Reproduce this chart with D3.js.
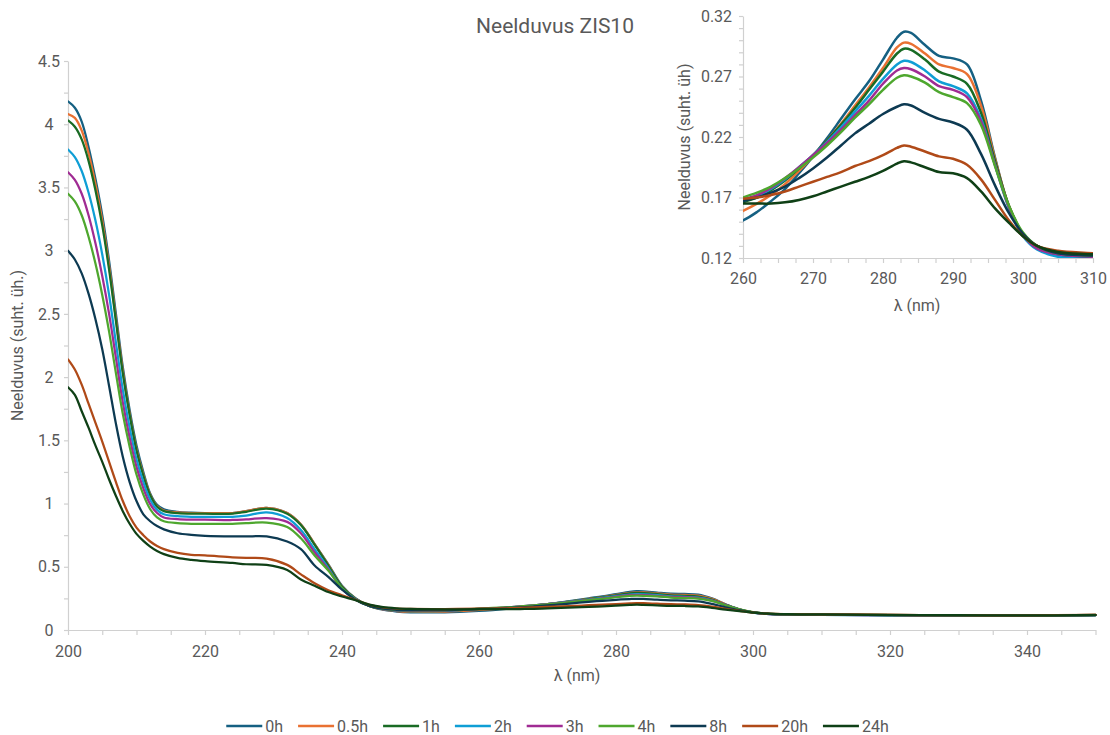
<!DOCTYPE html>
<html>
<head>
<meta charset="utf-8">
<script src="https://cdn.jsdelivr.net/npm/d3@7"></script>
<style>
  html, body { margin: 0; padding: 0; background: #ffffff; }
  svg { display: block; font-family: Roboto, "Liberation Sans", sans-serif; }
</style>
</head>
<body>
<svg id="chart" width="1110" height="735"></svg>
<script>
// Wavelength grid (nm)
const wavelengths = [
  200,201,202,203,204,205,206,207,208,209,210,211,212,213,214,
  216,218,220,224,226,229,232,234,236,238,
  240,242,244,246,248,250,255,
  260,262,264,266,268,270,272,274,276,278,
  280,282,283,284,286,288,290,292,294,296,
  298,300,302,305,310,320,330,340,350
];

// Absorbance spectra, one array per irradiation time
const abs0h = [
  4.18,4.13,4.02,3.82,3.57,3.28,2.92,2.50,2.08,1.74,1.46,1.25,1.08,0.99,0.955,
  0.935,0.928,0.925,0.925,0.94,0.965,0.925,0.835,0.68,0.52,
  0.35,0.25,0.19,0.16,0.146,0.14,0.14,
  0.151,0.158,0.167,0.177,0.19,0.204,0.219,0.235,0.251,0.266,
  0.284,0.302,0.307,0.306,0.296,0.287,0.285,0.28,0.25,0.203,
  0.162,0.139,0.128,0.122,0.120,0.117,0.115,0.114,0.118
];
const abs05h = [
  4.08,4.05,3.95,3.77,3.53,3.24,2.88,2.46,2.05,1.71,1.43,1.23,1.07,0.98,0.945,
  0.93,0.925,0.925,0.925,0.94,0.965,0.925,0.835,0.68,0.515,
  0.345,0.248,0.19,0.162,0.15,0.145,0.146,
  0.159,0.165,0.172,0.181,0.192,0.204,0.217,0.231,0.246,0.261,
  0.277,0.294,0.298,0.297,0.289,0.28,0.277,0.272,0.246,0.202,
  0.163,0.14,0.13,0.125,0.123,0.119,0.117,0.115,0.119
];
const abs1h = [
  4.03,3.98,3.88,3.71,3.48,3.20,2.85,2.44,2.03,1.70,1.42,1.22,1.065,0.975,0.94,
  0.925,0.92,0.92,0.92,0.935,0.96,0.92,0.83,0.675,0.51,
  0.342,0.246,0.19,0.164,0.154,0.15,0.152,
  0.166,0.17,0.176,0.184,0.194,0.205,0.217,0.23,0.244,0.259,
  0.274,0.289,0.293,0.292,0.284,0.274,0.27,0.264,0.24,0.2,
  0.163,0.14,0.13,0.125,0.123,0.118,0.116,0.114,0.118
];
const abs2h = [
  3.80,3.74,3.63,3.46,3.24,2.97,2.65,2.27,1.90,1.60,1.35,1.17,1.03,0.95,0.915,
  0.90,0.895,0.895,0.895,0.905,0.93,0.885,0.79,0.64,0.49,
  0.33,0.243,0.19,0.165,0.155,0.15,0.151,
  0.167,0.171,0.177,0.185,0.195,0.205,0.216,0.228,0.241,0.254,
  0.268,0.28,0.283,0.282,0.275,0.266,0.262,0.256,0.235,0.197,
  0.161,0.138,0.127,0.121,0.119,0.116,0.115,0.113,0.117
];
const abs3h = [
  3.62,3.56,3.45,3.28,3.06,2.80,2.50,2.15,1.80,1.52,1.29,1.12,0.995,0.925,0.89,
  0.877,0.873,0.873,0.87,0.875,0.885,0.855,0.765,0.615,0.48,
  0.325,0.242,0.19,0.165,0.156,0.152,0.153,
  0.168,0.172,0.178,0.186,0.195,0.205,0.215,0.226,0.238,0.25,
  0.264,0.275,0.277,0.276,0.27,0.262,0.259,0.253,0.233,0.197,
  0.162,0.139,0.128,0.123,0.121,0.117,0.115,0.114,0.118
];
const abs4h = [
  3.45,3.39,3.28,3.11,2.90,2.65,2.36,2.03,1.71,1.45,1.23,1.07,0.955,0.89,0.86,
  0.845,0.84,0.84,0.84,0.845,0.85,0.815,0.725,0.59,0.47,
  0.33,0.24,0.19,0.166,0.158,0.155,0.156,
  0.17,0.174,0.179,0.186,0.194,0.203,0.213,0.224,0.236,0.247,
  0.259,0.269,0.271,0.27,0.265,0.257,0.253,0.248,0.23,0.196,
  0.163,0.141,0.13,0.124,0.122,0.118,0.116,0.114,0.118
];
const abs8h = [
  3.00,2.93,2.82,2.66,2.46,2.22,1.93,1.63,1.37,1.17,1.02,0.915,0.86,0.822,0.796,
  0.765,0.752,0.745,0.74,0.74,0.74,0.70,0.64,0.51,0.42,
  0.32,0.238,0.19,0.168,0.16,0.157,0.158,
  0.167,0.17,0.174,0.179,0.186,0.194,0.203,0.213,0.223,0.231,
  0.239,0.245,0.247,0.246,0.24,0.235,0.232,0.226,0.206,0.18,
  0.157,0.14,0.13,0.124,0.122,0.118,0.116,0.114,0.118
];
const abs20h = [
  2.14,2.06,1.94,1.79,1.64,1.49,1.33,1.17,1.02,0.90,0.81,0.75,0.70,0.665,0.64,
  0.61,0.595,0.59,0.575,0.57,0.565,0.515,0.44,0.37,0.315,
  0.275,0.237,0.20,0.178,0.17,0.167,0.166,
  0.169,0.17,0.172,0.175,0.179,0.183,0.187,0.191,0.196,0.2,
  0.205,0.211,0.213,0.212,0.208,0.204,0.202,0.197,0.185,0.168,
  0.151,0.138,0.13,0.126,0.124,0.12,0.117,0.116,0.12
];
const abs24h = [
  1.92,1.86,1.73,1.60,1.46,1.33,1.19,1.06,0.94,0.84,0.76,0.705,0.66,0.625,0.60,
  0.57,0.555,0.545,0.53,0.52,0.515,0.475,0.40,0.35,0.30,
  0.265,0.235,0.20,0.18,0.171,0.167,0.164,
  0.165,0.165,0.165,0.166,0.168,0.171,0.175,0.179,0.183,0.187,
  0.192,0.198,0.2,0.199,0.195,0.191,0.19,0.186,0.175,0.161,
  0.149,0.138,0.13,0.125,0.123,0.119,0.117,0.115,0.119
];

const seriesLabels = ["0h","0.5h","1h","2h","3h","4h","8h","20h","24h"];
const seriesValues = [abs0h, abs05h, abs1h, abs2h, abs3h, abs4h, abs8h, abs20h, abs24h];
const seriesColors = ["#156082","#E97132","#196B24","#0F9ED5","#A02B93","#4EA72E","#0D3A52","#B04A18","#0F4016"];

// Axis ticks
const mainXTicks = d3.range(200, 351, 5);
const mainXLabels = [200,220,240,260,280,300,320,340];
const mainYTicks = d3.range(0, 4.51, 0.25);
const mainYLabels = [0,0.5,1,1.5,2,2.5,3,3.5,4,4.5];
const insetXTicks = d3.range(0, 21).map(k => 260 + k * 2.5);
const insetXLabels = [260,270,280,290,300,310];
const insetYTicks = d3.range(12, 33).map(k => k / 100);
const insetYLabels = [0.12,0.17,0.22,0.27,0.32];

const textColor = "#595959";
const axisColor = "#D0D0D0";

const svg = d3.select("#chart");

const series = seriesLabels.map((label, i) => ({
  label,
  color: seriesColors[i],
  points: wavelengths.map((w, j) => ({ w, a: seriesValues[i][j] }))
}));

function styleAxis(g) {
  g.select(".domain").attr("stroke", axisColor).attr("stroke-width", 1.2);
  g.selectAll(".tick line").attr("stroke", axisColor).attr("stroke-width", 1.2);
  g.selectAll(".tick text").attr("fill", textColor).style("font-size", "16px")
    .style("font-family", "Roboto, sans-serif");
}

const has = (arr, v) => arr.some(a => Math.abs(a - v) < 1e-9);
const smooth = d3.curveCatmullRom.alpha(0.5);

// ---------- main spectrum panel ----------
const x = d3.scaleLinear().domain([200, 350]).range([68, 1095.5]);
const y = d3.scaleLinear().domain([0, 4.5]).range([630, 61]);

svg.append("defs").append("clipPath").attr("id", "clipMain")
  .append("rect").attr("x", 68).attr("y", 40).attr("width", 1095.5 - 68 + 2).attr("height", 592);

svg.append("g").attr("transform", `translate(0,${y(0)})`)
  .call(d3.axisBottom(x).tickValues(mainXTicks).tickSize(5).tickSizeOuter(0).tickPadding(5)
    .tickFormat(d => has(mainXLabels, d) ? d : ""))
  .call(styleAxis)
  .call(g => g.selectAll(".tick text").attr("dy", "1.05em"));

svg.append("g").attr("transform", `translate(${x(200)},0)`)
  .call(d3.axisLeft(y).tickValues(mainYTicks).tickSize(4).tickSizeOuter(0)
    .tickFormat(d => has(mainYLabels, d) ? String(+d.toFixed(2)) : ""))
  .call(styleAxis)
  .call(g => g.selectAll(".tick text").attr("text-anchor", "middle").attr("x", 49 - 68));

const lineMain = d3.line().x(d => x(d.w)).y(d => y(d.a)).curve(smooth);

svg.append("g").attr("clip-path", "url(#clipMain)")
  .selectAll("path").data(series).join("path")
  .attr("d", s => lineMain(s.points))
  .attr("fill", "none")
  .attr("stroke", s => s.color)
  .attr("stroke-width", 2.25)
  .attr("stroke-linejoin", "round")
  .attr("stroke-linecap", "round");

svg.append("text").attr("x", 577).attr("y", 681).attr("text-anchor", "middle")
  .attr("fill", textColor).style("font-size", "16px").text("λ (nm)");

svg.append("text").attr("transform", "translate(23,345.5) rotate(-90)").attr("text-anchor", "middle")
  .attr("fill", textColor).style("font-size", "16px").text("Neelduvus (suht. üh.)");

svg.append("text").attr("x", 555).attr("y", 33).attr("text-anchor", "middle")
  .attr("fill", textColor).style("font-size", "21px").text("Neelduvus ZIS10");

// ---------- inset: 260–310 nm ----------
const xi = d3.scaleLinear().domain([260, 310]).range([743, 1093]);
const yi = d3.scaleLinear().domain([0.12, 0.32]).range([258, 16]);

svg.select("defs").append("clipPath").attr("id", "clipInset")
  .append("rect").attr("x", xi(260)).attr("y", yi(0.32)).attr("width", xi(310) - xi(260)).attr("height", yi(0.12) - yi(0.32));

svg.append("g").attr("transform", `translate(0,${yi(0.12)})`)
  .call(d3.axisBottom(xi).tickValues(insetXTicks).tickSize(5).tickSizeOuter(0).tickPadding(5)
    .tickFormat(d => has(insetXLabels, d) ? d : ""))
  .call(styleAxis)
  .call(g => g.selectAll(".tick text").attr("dy", "1.0em"));

svg.append("g").attr("transform", `translate(${xi(260)},0)`)
  .call(d3.axisLeft(yi).tickValues(insetYTicks).tickSize(4).tickSizeOuter(0)
    .tickFormat(d => has(insetYLabels, d) ? d.toFixed(2) : ""))
  .call(styleAxis)
  .call(g => g.selectAll(".tick text").attr("text-anchor", "middle").attr("x", 716.5 - 743));

const lineInset = d3.line().x(d => xi(d.w)).y(d => yi(d.a)).curve(smooth);

svg.append("g").attr("clip-path", "url(#clipInset)")
  .selectAll("path").data(series).join("path")
  .attr("d", s => lineInset(s.points.filter(p => p.w >= 255 && p.w <= 320)))
  .attr("fill", "none")
  .attr("stroke", s => s.color)
  .attr("stroke-width", 2.5)
  .attr("stroke-linejoin", "round")
  .attr("stroke-linecap", "round");

svg.append("text").attr("x", 917).attr("y", 311).attr("text-anchor", "middle")
  .attr("fill", textColor).style("font-size", "16px").text("λ (nm)");

svg.append("text").attr("transform", "translate(690,137) rotate(-90)").attr("text-anchor", "middle")
  .attr("fill", textColor).style("font-size", "16px").text("Neelduvus (suht. üh)");

// ---------- legend ----------
const legend = svg.append("g");
const items = legend.selectAll("g").data(series).join("g");
items.append("line").attr("x1", 0).attr("x2", 36).attr("y1", 0).attr("y2", 0)
  .attr("stroke", s => s.color).attr("stroke-width", 2.5);
items.append("text").attr("x", 39).attr("y", 0).attr("dy", "0.35em")
  .attr("fill", textColor).style("font-size", "16px").text(s => s.label);

let cursor = 0;
const offsets = [];
items.each(function () {
  const w = 39 + this.querySelector("text").getComputedTextLength();
  offsets.push(cursor);
  cursor += w + 15;
});
const totalWidth = cursor - 15;
const startX = 557.5 - totalWidth / 2;
items.attr("transform", (d, i) => `translate(${startX + offsets[i]},726)`);
</script>
</body>
</html>
